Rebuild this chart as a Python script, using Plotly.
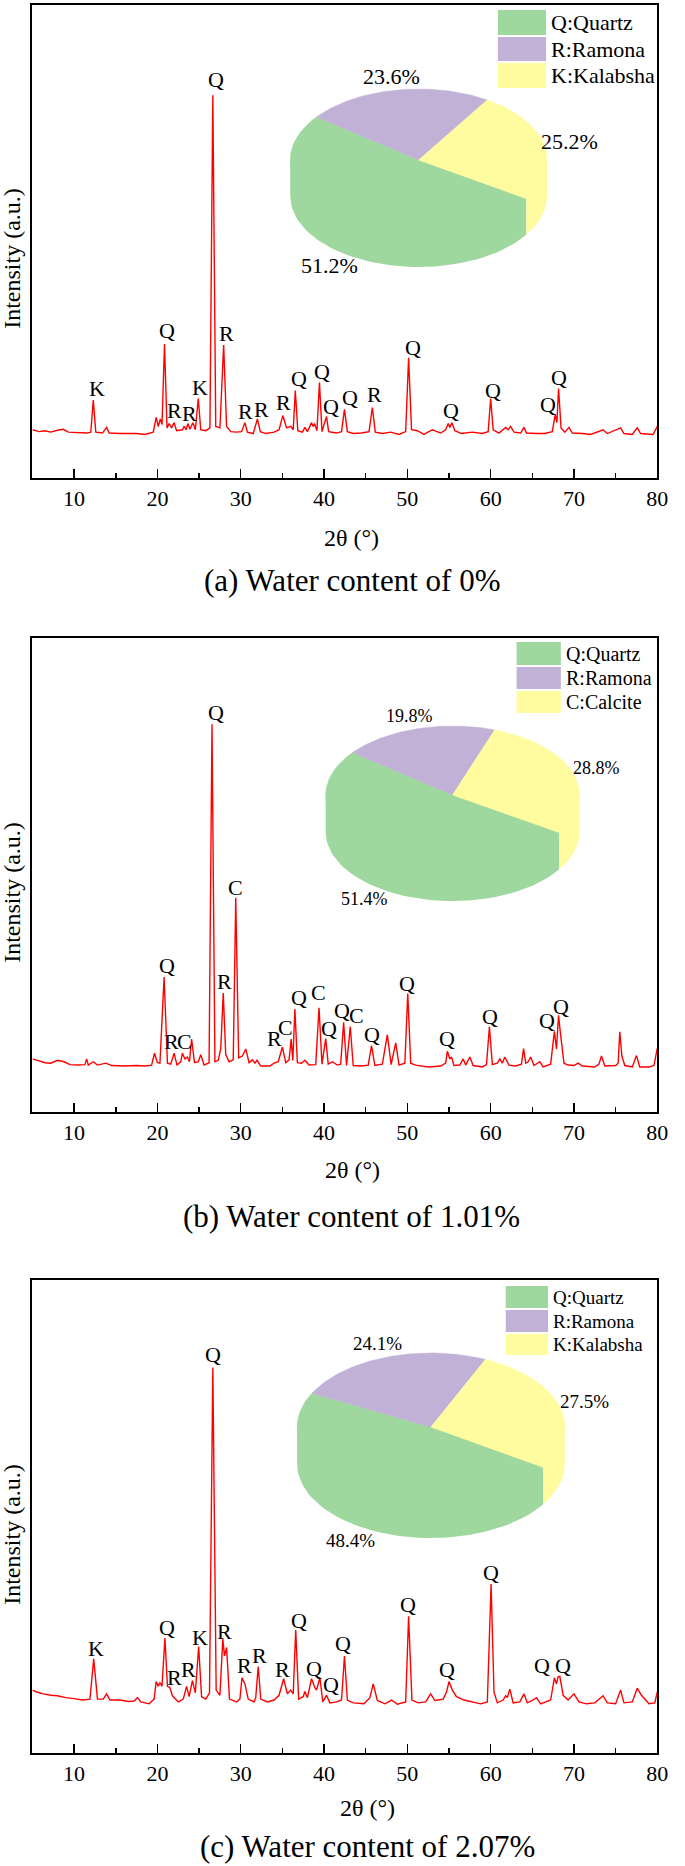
import numpy as np
import plotly.graph_objects as go

W, H = 685, 1866
FONT = "Liberation Serif, Times New Roman, serif"

# ---------------- XRD patterns (2theta, intensity a.u.) ----------------
a_x = [5.0, 5.8, 6.5, 7.2, 8.0, 8.7, 9.3, 10.5, 11.5, 12.0, 12.3, 12.6, 13.4, 13.9, 14.2, 15.5, 16.5, 17.5, 18.5, 19.5,
       19.85, 20.1, 20.35, 20.55, 20.85, 21.15, 21.4, 21.7, 22.0, 22.3, 23.0, 23.2, 23.45, 23.65, 23.9, 24.25, 24.55, 24.9,
       25.2, 25.8, 26.3, 26.65, 27.0, 27.5, 27.95, 28.3, 28.8, 29.5, 30.1, 30.5, 30.8, 31.5, 32.0, 32.35, 33.0, 34.0, 34.6,
       35.05, 35.5, 36.0, 36.3, 36.55, 36.85, 37.4, 37.7, 38.0, 38.5, 38.7, 38.85, 39.15, 39.45, 39.75, 40.3, 40.55, 41.5,
       42.1, 42.45, 42.8, 43.5, 44.5, 45.4, 45.8, 46.15, 47.0, 48.0, 49.0, 49.8, 50.15, 50.5, 51.2, 52.0, 53.0, 54.0, 54.6,
       54.9, 55.1, 55.35, 55.7, 56.5, 57.8, 59.0, 59.7, 60.0, 60.3, 61.0, 61.8, 62.1, 62.4, 62.8, 63.6, 64.0, 64.3, 65.5,
       66.5, 67.4, 67.75, 67.95, 68.15, 68.45, 68.9, 69.4, 69.8, 71.0, 72.0, 73.5, 74.0, 75.6, 76.0, 77.0, 77.6, 78.0,
       79.5, 80.0]
a_y = [10.2, 9.8, 10.0, 9.7, 10.1, 10.3, 9.7, 9.6, 9.5, 9.7, 16.5, 9.7, 9.5, 10.7, 9.5, 9.4, 9.4, 9.4, 9.2, 9.7,
       12.8, 10.9, 12.5, 11.3, 28.3, 10.6, 11.5, 10.6, 11.7, 10.0, 10.2, 10.9, 10.2, 11.5, 10.3, 11.7, 10.2, 16.8,
       10.2, 10.0, 10.6, 80.9, 10.9, 10.6, 28.1, 10.9, 9.8, 9.7, 9.8, 11.7, 9.7, 9.4, 12.5, 9.8, 9.4, 9.7, 10.2,
       13.2, 10.6, 10.9, 10.2, 18.5, 10.0, 9.7, 10.7, 9.8, 11.7, 10.9, 11.5, 10.0, 20.2, 9.8, 13.0, 9.8, 9.5,
       9.8, 14.5, 9.8, 9.4, 9.5, 9.8, 14.9, 9.7, 9.4, 9.7, 9.2, 9.8, 25.4, 10.2, 10.0, 9.2, 10.2, 9.5, 10.2,
       11.5, 10.7, 11.7, 10.0, 9.4, 9.7, 9.4, 9.8, 16.8, 10.2, 9.5, 10.7, 10.2, 10.9, 9.7, 9.5, 10.7, 9.5, 9.4,
       9.4, 9.8, 13.4, 11.7, 18.9, 10.6, 9.7, 10.7, 9.5, 9.4, 9.2, 10.2, 9.4, 10.6, 9.4, 9.2, 10.6, 9.4,
       9.2, 10.9]

b_x = [5.0, 5.5, 6.5, 7.2, 8.0, 8.8, 9.5, 10.5, 11.3, 11.5, 11.7, 12.3, 12.8, 13.8, 14.5, 16.0, 17.5, 18.5, 19.3, 19.65,
       20.0, 20.3, 20.8, 21.2, 21.6, 22.0, 22.35, 22.8, 23.0, 23.3, 23.6, 23.85, 24.1, 24.45, 24.9, 25.2, 25.6, 26.2,
       26.55, 26.9, 27.3, 27.6, 27.9, 28.2, 28.6, 29.1, 29.4, 29.75, 30.2, 30.6, 31.0, 31.4, 31.7, 31.95, 32.4, 33.5,
       34.0, 34.5, 35.0, 35.4, 35.8, 36.05, 36.25, 36.5, 36.8, 37.3, 37.7, 38.2, 39.0, 39.4, 39.75, 40.2, 40.5, 41.0,
       41.6, 42.0, 42.35, 42.7, 43.15, 43.5, 44.5, 45.3, 45.7, 46.1, 47.0, 47.6, 48.05, 48.6, 49.0, 49.7, 50.05, 50.4,
       51.0, 52.5, 54.0, 54.6, 54.8, 55.1, 55.3, 55.6, 56.3, 56.7, 57.0, 57.5, 57.9, 59.0, 59.5, 59.85, 60.2, 60.8,
       61.1, 61.4, 61.7, 62.2, 63.0, 63.7, 63.95, 64.2, 64.5, 64.8, 65.2, 65.9, 66.3, 67.2, 67.65, 67.9, 68.15, 68.35,
       68.8, 69.3, 70.0, 70.5, 71.0, 72.5, 73.0, 73.3, 73.7, 75.0, 75.3, 75.5, 75.75, 76.1, 77.0, 77.5, 77.9, 79.0,
       79.6, 80.0]
b_y = [11.2, 10.9, 10.4, 10.3, 10.9, 10.6, 10.0, 9.9, 10.0, 11.2, 9.9, 10.6, 9.9, 10.3, 9.8, 9.7, 9.8, 9.7, 9.9, 12.4,
       10.4, 10.3, 28.5, 10.3, 10.1, 12.4, 9.9, 10.6, 12.4, 11.2, 11.6, 10.6, 15.4, 10.4, 10.6, 12.1, 9.9, 10.4,
       81.8, 10.6, 10.9, 13.3, 25.1, 12.1, 10.6, 11.0, 45.2, 11.4, 11.8, 13.3, 10.4, 11.0, 10.3, 10.9, 9.7, 9.7,
       10.3, 10.6, 13.7, 10.4, 11.0, 15.4, 10.9, 21.7, 10.4, 10.3, 10.9, 9.9, 10.0, 22.0, 10.1, 15.5, 10.1, 10.6,
       9.9, 10.1, 18.9, 9.8, 18.0, 9.8, 9.7, 9.9, 14.0, 9.8, 10.1, 16.3, 10.0, 14.6, 9.9, 10.3, 25.0, 10.3,
       9.9, 9.5, 9.7, 10.3, 12.8, 11.2, 11.6, 9.8, 9.9, 11.2, 9.9, 11.6, 9.8, 9.5, 10.0, 18.0, 10.0, 10.3,
       11.2, 10.3, 11.6, 9.9, 9.7, 10.1, 13.4, 10.3, 10.6, 11.6, 9.8, 10.6, 9.5, 10.1, 17.0, 13.3, 20.4, 17.0,
       10.3, 9.9, 9.8, 10.3, 9.7, 9.5, 10.1, 11.8, 9.7, 9.8, 10.3, 16.9, 11.8, 9.8, 9.5, 11.9, 9.5, 9.5,
       9.8, 13.4]

c_x = [5.0, 5.5, 6.3, 7.2, 8.0, 9.0, 10.0, 11.0, 11.9, 12.35, 12.8, 13.5, 13.9, 14.3, 15.5, 16.5, 17.2, 17.6, 18.0, 19.0,
       19.6, 19.85, 20.1, 20.3, 20.55, 20.9, 21.2, 21.5, 21.8, 22.5, 23.1, 23.5, 23.8, 24.2, 24.55, 24.95, 25.3, 25.8,
       26.25, 26.65, 27.05, 27.5, 27.85, 28.05, 28.3, 28.65, 29.5, 29.9, 30.15, 30.5, 30.9, 31.6, 31.8, 32.1, 32.4, 33.2,
       34.0, 34.6, 35.15, 35.6, 36.0, 36.3, 36.6, 36.95, 37.5, 37.7, 38.0, 38.5, 38.9, 39.1, 39.5, 39.85, 40.3, 40.7,
       41.5, 42.1, 42.45, 42.8, 43.5, 44.8, 45.5, 45.9, 46.4, 47.3, 48.1, 48.8, 49.8, 50.15, 50.55, 51.3, 52.2, 52.8,
       53.3, 54.3, 54.7, 55.0, 55.4, 55.9, 56.8, 57.8, 58.8, 59.6, 60.05, 60.4, 60.8, 61.5, 61.8, 62.0, 62.3, 62.7,
       63.5, 64.0, 64.4, 65.0, 65.5, 66.0, 67.2, 67.65, 67.9, 68.1, 68.3, 68.7, 69.3, 70.0, 70.6, 71.5, 72.5, 73.5,
       74.0, 75.0, 75.6, 76.0, 77.0, 77.6, 78.1, 79.0, 79.7, 80.0]
c_y = [13.3, 12.9, 12.5, 12.2, 12.1, 11.7, 11.5, 11.2, 11.4, 19.9, 11.4, 11.4, 12.5, 11.2, 11.2, 10.9, 11.0, 11.7, 10.8, 10.4,
       11.4, 15.1, 14.1, 14.9, 14.1, 24.3, 14.1, 13.8, 12.1, 10.8, 11.4, 14.1, 11.9, 15.3, 12.7, 22.5, 11.9, 11.4,
       12.7, 81.5, 13.3, 12.2, 24.1, 20.5, 22.3, 11.4, 10.8, 11.4, 15.9, 14.6, 11.4, 10.8, 11.7, 18.3, 11.4, 10.8,
       11.2, 12.2, 15.7, 12.5, 13.3, 12.5, 26.0, 11.4, 11.9, 13.0, 11.7, 15.7, 13.8, 13.3, 15.9, 10.8, 12.2, 10.6,
       10.8, 11.2, 20.5, 11.2, 10.6, 10.4, 11.7, 14.6, 11.1, 10.4, 11.2, 10.3, 10.8, 28.9, 11.2, 10.6, 10.8, 12.5,
       11.1, 11.4, 12.9, 15.1, 13.3, 11.9, 11.2, 10.8, 10.4, 10.8, 35.7, 12.9, 10.6, 11.2, 12.1, 11.7, 13.5, 10.6,
       10.8, 12.5, 10.6, 11.1, 11.7, 10.4, 11.2, 15.9, 14.6, 16.1, 16.2, 12.2, 11.2, 12.5, 10.8, 10.4, 10.6, 12.1,
       10.6, 10.4, 13.3, 10.6, 10.8, 13.7, 12.2, 10.4, 10.6, 12.9]

# ---------------- peak labels ----------------
a_lab_t = ["K", "Q", "R", "R", "K", "Q", "R", "R", "R", "R", "Q", "Q", "Q", "Q", "R", "Q", "Q", "Q", "Q", "Q"]
a_lab_x = [12.7, 21.1, 22.1, 23.9, 25.1, 27.0, 28.3, 30.6, 32.5, 35.1, 37.0, 39.8, 40.8, 43.1, 46.1, 50.65, 55.2, 60.3, 66.9, 68.2]
a_lab_y = [18.9, 31.1, 14.3, 13.7, 19.2, 84.2, 30.6, 14.0, 14.5, 16.0, 21.0, 22.6, 15.2, 17.0, 17.7, 27.5, 14.3, 18.6, 15.6, 21.3]

b_lab_t = ["Q", "R", "C", "Q", "R", "C", "R", "C", "Q", "C", "Q", "Q", "C", "Q", "Q", "Q", "Q", "Q", "Q"]
b_lab_x = [21.1, 21.7, 23.3, 27.0, 28.1, 29.4, 34.0, 35.4, 37.0, 39.3, 40.6, 42.1, 43.9, 45.7, 50.0, 54.8, 59.9, 66.8, 68.4]
b_lab_y = [31.0, 14.8, 14.8, 84.3, 27.5, 47.4, 15.5, 17.8, 24.2, 25.3, 17.6, 21.4, 20.4, 16.4, 27.2, 15.5, 20.1, 19.2, 22.3]

c_lab_t = ["K", "Q", "R", "R", "K", "Q", "R", "R", "R", "R", "Q", "Q", "Q", "Q", "Q", "Q", "Q", "Q", "Q"]
c_lab_x = [12.6, 21.1, 22.0, 23.7, 25.1, 26.7, 28.0, 30.4, 32.3, 35.0, 37.0, 38.8, 40.8, 42.3, 50.1, 54.7, 60.1, 66.2, 68.7]
c_lab_y = [22.1, 26.5, 15.9, 17.7, 24.5, 84.3, 25.7, 18.5, 20.7, 17.7, 28.1, 17.8, 14.5, 23.1, 31.3, 17.7, 38.2, 18.5, 18.5]

# ---------------- phase fractions (pie) ----------------
a_phase = ["Q:Quartz", "R:Ramona", "K:Kalabsha"]
a_pct = [51.2, 23.6, 25.2]
b_phase = ["Q:Quartz", "R:Ramona", "C:Calcite"]
b_pct = [51.4, 19.8, 28.8]
c_phase = ["Q:Quartz", "R:Ramona", "K:Kalabsha"]
c_pct = [48.4, 24.1, 27.5]

captions = ["(a) Water content of 0%", "(b) Water content of 1.01%", "(c) Water content of 2.07%"]

# ---------------- styling / layout geometry (pixels) ----------------
PIE_COLORS = ["#9fd89e", "#c1b1d6", "#fffca0"]
X0, X1 = 33, 668
panels = [
    dict(top=5, bot=478, x=a_x, y=a_y, lt=a_lab_t, lx=a_lab_x, ly=a_lab_y, phase=a_phase, pct=a_pct,
         pie=dict(cx=425.5, cy=160, a=130.5, b=71, d=36, fs=22),
         leg=dict(x0=506, x1=555, ys=[(10, 35), (37, 61), (63, 88)], tx=558, fs=22),
         xt=(357, 538), cap=(358, 580), yt=(12, 258)),
    dict(top=638, bot=1112, x=b_x, y=b_y, lt=b_lab_t, lx=b_lab_x, ly=b_lab_y, phase=b_phase, pct=b_pct,
         pie=dict(cx=460, cy=795, a=129, b=69, d=37, fs=18),
         leg=dict(x0=525, x1=570, ys=[(642, 665), (667, 689), (691, 713)], tx=573, fs=20),
         xt=(358, 1170), cap=(357, 1216), yt=(12, 892)),
    dict(top=1280, bot=1753, x=c_x, y=c_y, lt=c_lab_t, lx=c_lab_x, ly=c_lab_y, phase=c_phase, pct=c_pct,
         pie=dict(cx=438, cy=1427, a=136, b=74, d=37, fs=19),
         leg=dict(x0=514, x1=557, ys=[(1286, 1308), (1310, 1332), (1334, 1355)], tx=560, fs=19),
         xt=(373, 1808), cap=(374, 1846), yt=(12, 1534)),
]
START = -33.0  # angle (deg) where first slice begins, slices run clockwise

fig = go.Figure()
annotations = []
shapes = []
layout_axes = {}

for i, p in enumerate(panels):
    k = "" if i == 0 else str(i + 1)
    xa, ya = "x" + k, "y" + k
    fig.add_trace(go.Scatter(x=p["x"], y=p["y"], mode="lines", line=dict(color="#ff0000", width=1.4),
                             xaxis=xa, yaxis=ya, showlegend=False, hoverinfo="skip"))
    layout_axes["xaxis" + k] = dict(
        domain=[X0 / W, X1 / W], range=[5, 80], anchor=ya,
        tickmode="array", tickvals=[10, 20, 30, 40, 50, 60, 70, 80],
        ticks="inside", ticklen=9, tickwidth=1.5, tickcolor="black",
        minor=dict(tickvals=[5, 15, 25, 35, 45, 55, 65, 75], ticks="inside", ticklen=5, tickwidth=1.5, tickcolor="black"),
        showline=True, linewidth=2, linecolor="black", mirror=True, showgrid=False, zeroline=False,
        tickfont=dict(family=FONT, size=22, color="black"))
    layout_axes["yaxis" + k] = dict(
        domain=[1 - p["bot"] / H, 1 - p["top"] / H], range=[0, 100], anchor=xa,
        showticklabels=False, ticks="", showline=True, linewidth=2, linecolor="black", mirror=True,
        showgrid=False, zeroline=False)
    for t, lx, ly in zip(p["lt"], p["lx"], p["ly"]):
        annotations.append(dict(x=lx, y=ly, xref=xa, yref=ya, text=t, showarrow=False,
                                font=dict(family=FONT, size=22, color="black"), xanchor="center", yanchor="middle"))

    # ---- 3D-style pie drawn in pixel coordinates on overlay axes x4/y4 ----
    g = p["pie"]
    cx, cy, ra, rb, dep = g["cx"], g["cy"], g["a"], g["b"], g["d"]
    spans = [v / 100.0 * 360.0 for v in p["pct"]]
    ranges = []
    s = START
    for sp in spans:
        ranges.append((s - sp, s))
        s -= sp

    def arc(t1, t2, off=0.0, n=60):
        t = np.radians(np.linspace(t1, t2, n))
        return list(cx + ra * np.cos(t)), list(cy - rb * np.sin(t) + off)

    # side walls (visible lower half); polygon runs hub -> top edge -> down -> bottom arc -> up -> hub
    for (lo, hi), col in zip(ranges, PIE_COLORS):
        for m in (-2, -1, 0, 1):
            wlo, whi = max(lo, -180 + 360 * m), min(hi, 360 * m)
            if whi > wlo:
                tlx, tly = arc(wlo, wlo, 0, 1)
                thx, thy = arc(whi, whi, 0, 1)
                bx, by = arc(wlo, whi, dep)
                xs = [cx] + tlx + bx + thx + [cx]
                ys = [cy] + tly + by + thy + [cy]
                fig.add_trace(go.Scatter(x=xs, y=ys, mode="lines", fill="toself",
                                         fillcolor=col, line=dict(width=0, color=col), xaxis="x4", yaxis="y4",
                                         showlegend=False, hoverinfo="skip"))
    # top faces
    for (lo, hi), col in zip(ranges, PIE_COLORS):
        tx, ty = arc(hi, lo)
        fig.add_trace(go.Scatter(x=[cx] + tx + [cx], y=[cy] + ty + [cy], mode="lines", fill="toself",
                                 fillcolor=col, line=dict(width=0.5, color=col), xaxis="x4", yaxis="y4",
                                 showlegend=False, hoverinfo="skip"))
    # percentage labels
    for (lo, hi), v in zip(ranges, p["pct"]):
        mid = np.radians((lo + hi) / 2)
        lxp = cx + 1.2 * ra * np.cos(mid)
        lyp = cy - 1.2 * rb * np.sin(mid) + (dep if np.sin(mid) < 0 else 0)
        annotations.append(dict(x=lxp, y=lyp, xref="x4", yref="y4", text=f"{v:.1f}%", showarrow=False,
                                font=dict(family=FONT, size=g["fs"], color="black")))
    # legend boxes
    L = p["leg"]
    for (y0, y1), col, name in zip(L["ys"], PIE_COLORS, p["phase"]):
        shapes.append(dict(type="rect", xref="x4", yref="y4", x0=L["x0"], x1=L["x1"], y0=y0, y1=y1,
                           fillcolor=col, line=dict(width=0)))
        annotations.append(dict(x=L["tx"], y=(y0 + y1) / 2, xref="x4", yref="y4", text=name, showarrow=False,
                                xanchor="left", yanchor="middle", font=dict(family=FONT, size=L["fs"], color="black")))
    # titles and captions
    annotations.append(dict(x=p["xt"][0], y=p["xt"][1], xref="x4", yref="y4", text="2θ (°)", showarrow=False,
                            font=dict(family=FONT, size=24, color="black")))
    annotations.append(dict(x=p["cap"][0], y=p["cap"][1], xref="x4", yref="y4", text=captions[i], showarrow=False,
                            font=dict(family=FONT, size=31, color="black")))
    annotations.append(dict(x=p["yt"][0], y=p["yt"][1], xref="x4", yref="y4", text="Intensity (a.u.)",
                            showarrow=False, textangle=-90, font=dict(family=FONT, size=24, color="black")))

layout_axes["xaxis4"] = dict(domain=[0, 1], range=[0, W], visible=False, anchor="y4", fixedrange=True)
layout_axes["yaxis4"] = dict(domain=[0, 1], range=[H, 0], visible=False, anchor="x4", fixedrange=True)

fig.update_layout(width=W, height=H, margin=dict(l=0, r=0, t=0, b=0), paper_bgcolor="white",
                  plot_bgcolor="rgba(0,0,0,0)", showlegend=False, annotations=annotations, shapes=shapes,
                  font=dict(family=FONT, color="black"), **layout_axes)
fig.write_html("out.html", config={"displayModeBar": False, "staticPlot": True},
               post_script="document.body.style.margin='0';document.body.style.padding='0';document.body.style.overflow='hidden';")
